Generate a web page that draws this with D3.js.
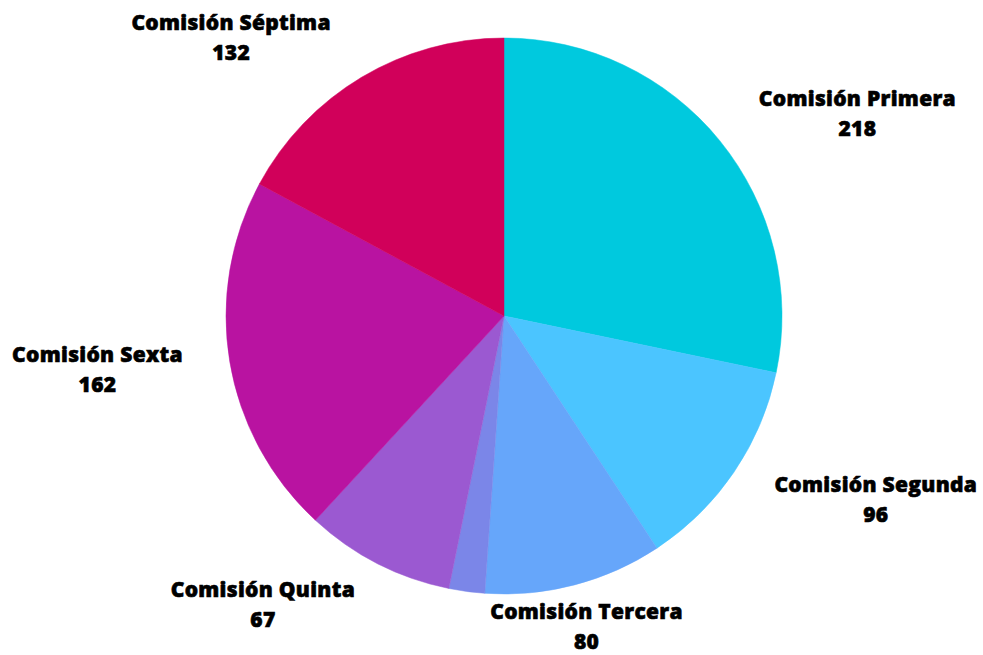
<!DOCTYPE html>
<html>
<head>
<meta charset="utf-8">
<script src="https://cdn.jsdelivr.net/npm/d3@7"></script>
<style>
  body { margin: 0; background: #fff; }
  .lbl { font-family: "Open Sans", sans-serif; font-weight: 800; font-size: 21px; fill: #000;
         stroke: #000; stroke-width: 0.6px; letter-spacing: 0.3px; }
</style>
</head>
<body>
<div class="chart"></div>
<script>
// data (the thin slice has no label)
var categories = ["Comisión Primera", "Comisión Segunda", "Comisión Tercera", "Comisión Cuarta",
                  "Comisión Quinta", "Comisión Sexta", "Comisión Séptima"];
var values = [218, 96, 80, 16, 67, 162, 132];
var showLabel = [true, true, true, false, true, true, true];
var colors = ["#00c9de", "#4bc5ff", "#66a6fa", "#7b86e8", "#9b59d1", "#b913a1", "#d1005a"];

// label nudges from the radial position, px
var labelNudge = [[43, 49], [41, -42], [-19, -77], [0, 0], [-59, -68], [-12, -13], [-68, 65]];

var svgWidth = 983, svgHeight = 655;
var cx = 504, cy = 316, radius = 278, labelRadius = 400;

var svg = d3.select(".chart")
  .append("svg")
  .attr("width", svgWidth)
  .attr("height", svgHeight);

var g = svg.append("g")
  .attr("transform", `translate(${cx}, ${cy})`);

var rows = categories.map((c, i) => ({ name: c, value: values[i], i: i }));

var pie = d3.pie()
  .sort(null)
  .value(d => d.value);

var arc = d3.arc().innerRadius(0).outerRadius(radius);
var labelArc = d3.arc().innerRadius(labelRadius).outerRadius(labelRadius);

var arcs = pie(rows);

g.selectAll("path")
  .data(arcs)
  .enter()
  .append("path")
  .attr("d", arc)
  .attr("fill", d => colors[d.data.i])
  .attr("stroke", d => colors[d.data.i])
  .attr("stroke-width", 0.5);

// labels: name and value on two lines
var labels = g.selectAll("text")
  .data(arcs.filter(d => showLabel[d.data.i]))
  .enter()
  .append("text")
  .attr("class", "lbl")
  .attr("text-anchor", "middle")
  .attr("transform", function(d) {
    var p = labelArc.centroid(d);
    var n = labelNudge[d.data.i];
    return `translate(${p[0] + n[0]}, ${p[1] + n[1]})`;
  });

labels.append("tspan")
  .attr("x", 0)
  .attr("y", -7)
  .text(d => d.data.name);

labels.append("tspan")
  .attr("x", 0)
  .attr("y", 23)
  .text(d => d.data.value);
</script>
</body>
</html>
